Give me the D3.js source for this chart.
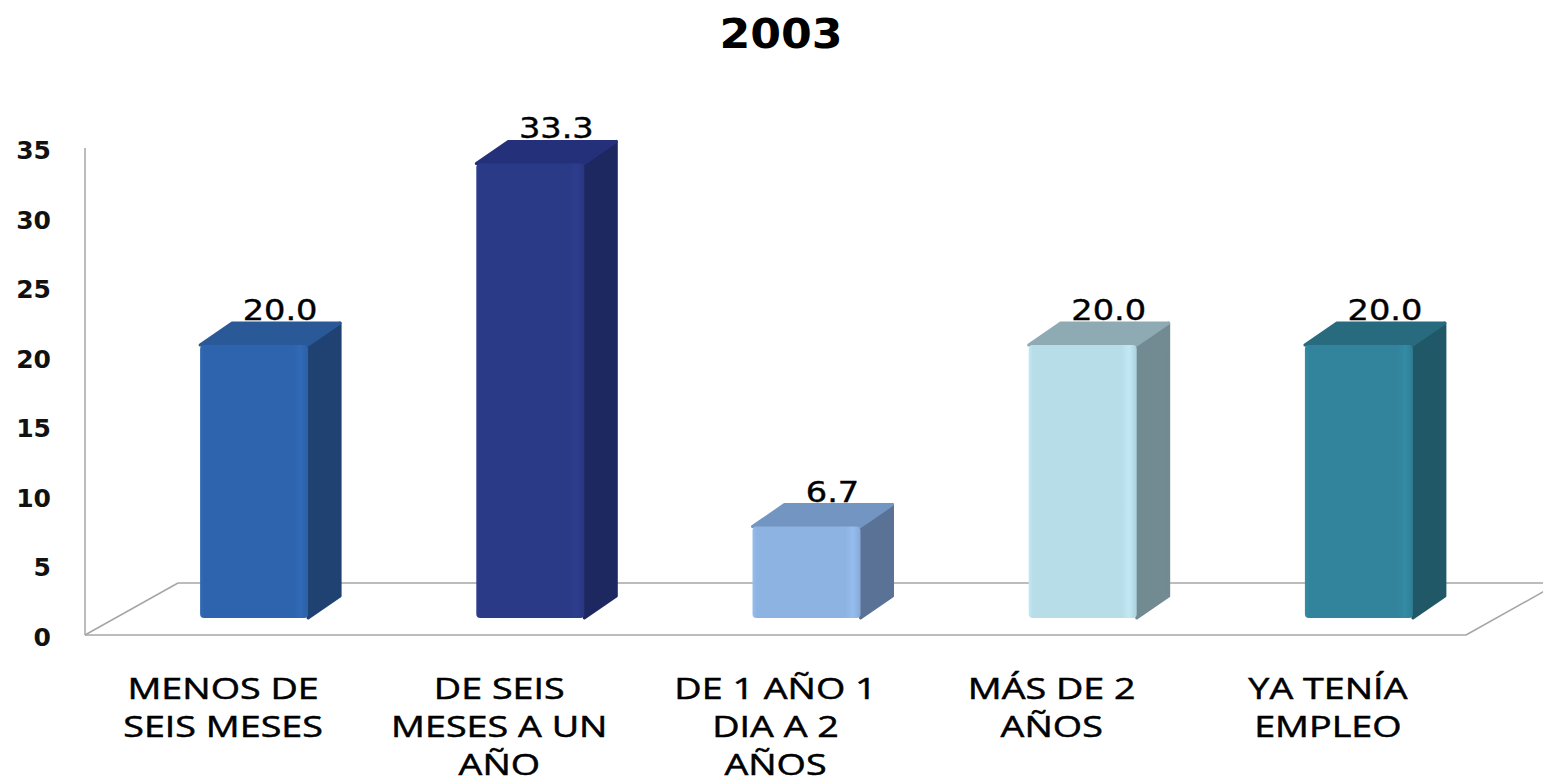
<!DOCTYPE html>
<html>
<head>
<meta charset="utf-8">
<script src="https://cdn.jsdelivr.net/npm/d3@7"></script>
<style>
  body { margin: 0; background: #fff; }
  svg { display: block; }
</style>
</head>
<body>
<svg id="chart" width="1543" height="784"></svg>
<script>
// data
var title = "2003";
var categories = ["MENOS DE SEIS MESES", "DE SEIS MESES A UN AÑO", "DE 1 AÑO 1 DIA A 2 AÑOS", "MÁS DE 2 AÑOS", "YA TENÍA EMPLEO"];
var categoryLines = [
    ["MENOS DE", "SEIS MESES"],
    ["DE SEIS", "MESES A UN", "AÑO"],
    ["DE 1 AÑO 1", "DIA A 2", "AÑOS"],
    ["MÁS DE 2", "AÑOS"],
    ["YA TENÍA", "EMPLEO"]
];
var values = [20.0, 33.3, 6.7, 20.0, 20.0];
var yTicks = [0, 5, 10, 15, 20, 25, 30, 35];
var frontColors = ["#2e64ad", "#2b3a87", "#8db3e2", "#b7dde8", "#31849b"];
var sideColors = ["#1f4272", "#1e2860", "#5a7296", "#728b92", "#205867"];
var topColors = ["#2a5998", "#24317a", "#7395c2", "#8eabb3", "#286b7f"];

var svg = d3.select("#chart");
var defs = svg.append("defs");

// floor/axis geometry
var floorDx = 93, floorDy = -52;
var barDx = 32, barDy = -22;
var barW = 108;

var x = d3.scaleBand().domain(categories).range([85, 1466]);
var yAxis = d3.scaleLinear().domain([0, 35]).range([637, 150]);
var yBar = d3.scaleLinear().domain([0, 35]).range([618, 618 - 35 * 13.65]);

var floorY = 635;

// title
svg.append("text")
    .attr("transform", "translate(781,48) scale(1.08,1)")
    .attr("text-anchor", "middle")
    .style("font-family", "DejaVu Sans")
    .style("font-weight", "bold")
    .style("font-size", "41px")
    .text(title);

// y tick labels
svg.append("g").selectAll("text")
    .data(yTicks)
    .enter().append("text")
    .attr("x", 51)
    .attr("y", function(d) { return yAxis(d); })
    .attr("dy", "0.36em")
    .attr("text-anchor", "end")
    .style("font-family", "DejaVu Sans")
    .style("font-weight", "bold")
    .style("font-size", "25px")
    .style("fill", "#111")
    .text(function(d) { return d; });

// walls / floor
var grid = svg.append("g")
    .style("stroke", "#a6a6a6")
    .style("stroke-width", 1.5)
    .style("fill", "none");
grid.append("line").attr("x1", 85).attr("x2", 85).attr("y1", 148).attr("y2", floorY);
grid.append("line").attr("x1", 85).attr("x2", 1466).attr("y1", floorY).attr("y2", floorY);
grid.append("line").attr("x1", 85 + floorDx).attr("x2", 1466 + floorDx)
    .attr("y1", floorY + floorDy).attr("y2", floorY + floorDy);
grid.append("line").attr("x1", 85).attr("x2", 85 + floorDx).attr("y1", floorY).attr("y2", floorY + floorDy);
grid.append("line").attr("x1", 1466).attr("x2", 1466 + floorDx).attr("y1", floorY).attr("y2", floorY + floorDy);

// gradients for front faces, subtle bevel on the edges
frontColors.forEach(function(c, i) {
    var base = d3.color(c);
    var g = defs.append("linearGradient").attr("id", "front" + i)
        .attr("x1", 0).attr("x2", 1).attr("y1", 0).attr("y2", 0);
    g.append("stop").attr("offset", "0%").attr("stop-color", base.brighter(0.15));
    g.append("stop").attr("offset", "4%").attr("stop-color", base);
    g.append("stop").attr("offset", "86%").attr("stop-color", base);
    g.append("stop").attr("offset", "93%").attr("stop-color", base.brighter(0.15));
    g.append("stop").attr("offset", "100%").attr("stop-color", base.darker(0.15));
});

var bars = svg.append("g").selectAll("g")
    .data(categories)
    .enter().append("g");

function bx(d) { return x(d) + x.bandwidth() / 2 - 23; }

// side face
bars.append("path")
    .attr("d", function(d, i) {
        var x1 = bx(d) + barW, yt = yBar(values[i]), yb = yBar(0);
        return "M" + x1 + "," + yt + "L" + (x1 + barDx) + "," + (yt + barDy) +
            "L" + (x1 + barDx) + "," + (yb + barDy) + "L" + x1 + "," + yb + "Z";
    })
    .style("fill", function(d, i) { return sideColors[i]; })
    .style("stroke", function(d, i) { return sideColors[i]; })
    .style("stroke-linejoin", "round")
    .style("stroke-width", 3);

// top face
bars.append("path")
    .attr("d", function(d, i) {
        var x0 = bx(d), yt = yBar(values[i]);
        return "M" + x0 + "," + yt + "L" + (x0 + barDx) + "," + (yt + barDy) +
            "L" + (x0 + barW + barDx) + "," + (yt + barDy) + "L" + (x0 + barW) + "," + yt + "Z";
    })
    .style("fill", function(d, i) { return topColors[i]; })
    .style("stroke", function(d, i) { return topColors[i]; })
    .style("stroke-linejoin", "round")
    .style("stroke-width", 3);

// front face
bars.append("rect")
    .attr("x", bx)
    .attr("y", function(d, i) { return yBar(values[i]); })
    .attr("width", barW)
    .attr("height", function(d, i) { return yBar(0) - yBar(values[i]); })
    .attr("rx", 4)
    .style("fill", function(d, i) { return "url(#front" + i + ")"; });

// value labels
bars.append("text")
    .attr("transform", function(d, i) {
        return "translate(" + (bx(d) + barW / 2 + 26) + "," + (yBar(values[i]) + barDy - 3) + ") scale(1.2,1)";
    })
    .attr("text-anchor", "middle")
    .style("font-family", "DejaVu Sans")
    .style("font-size", "28px")
    .style("fill", "#000")
    .style("stroke", "#000")
    .style("stroke-width", 0.4)
    .text(function(d, i) { return values[i].toFixed(1); });

// category labels
var cat = svg.append("g").selectAll("g")
    .data(categories)
    .enter().append("g");
cat.each(function(d, i) {
    var g = d3.select(this);
    categoryLines[i].forEach(function(line, j) {
        g.append("text")
            .attr("transform", "translate(" + (x(d) + x.bandwidth() / 2) + "," + (699 + j * 38) + ") scale(1.3,1)")
            .attr("text-anchor", "middle")
            .style("font-family", "Open Sans")
            .style("font-size", "29px")
            .style("fill", "#000")
            .style("stroke", "#000")
            .style("stroke-width", 0.5)
            .text(line);
    });
});
</script>
</body>
</html>
